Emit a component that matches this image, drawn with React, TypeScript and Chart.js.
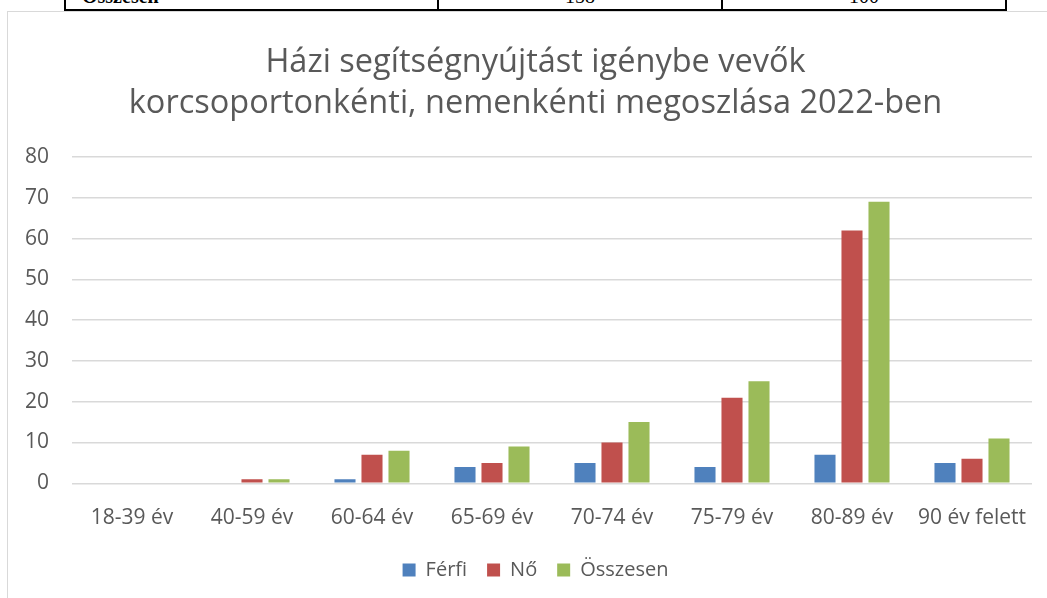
import React, { useEffect, useRef } from "react";
import { Chart, registerables } from "chart.js";

Chart.register(...registerables);

const categories = ["18-39 év", "40-59 év", "60-64 év", "65-69 év", "70-74 év", "75-79 év", "80-89 év", "90 év felett"];
const ferfi = [0, 0, 1, 4, 5, 4, 7, 5];
const no = [0, 1, 7, 5, 10, 21, 62, 6];
const osszesen = [0, 1, 8, 9, 15, 25, 69, 11];
const seriesNames = ["Férfi", "Nő", "Összesen"];
const titleLines = ["Házi segítségnyújtást igénybe vevők", "korcsoportonkénti, nemenkénti megoszlása 2022-ben"];
const tableCells = ["Összesen", "158", "100"];

const FONT = "'Open Sans', 'DejaVu Sans', sans-serif";
const TEXT = "#595959";

export default function App() {
  const ref = useRef<HTMLCanvasElement>(null);
  useEffect(() => {
    const chart = new Chart(ref.current!, {
      type: "bar",
      data: {
        labels: categories,
        datasets: [
          { label: seriesNames[0], data: ferfi, backgroundColor: "#4F81BD", yAxisID: "y" },
          { label: seriesNames[1], data: no, backgroundColor: "#C0504D", yAxisID: "y" },
          { label: seriesNames[2], data: osszesen, backgroundColor: "#9BBB59", yAxisID: "y" },
        ],
      },
      options: {
        animation: false,
        responsive: false,
        maintainAspectRatio: false,
        layout: { padding: { left: 17, right: 0, top: 0, bottom: 8 } },
        datasets: { bar: { categoryPercentage: 0.675, barPercentage: 0.78 } },
        plugins: {
          tooltip: { enabled: false },
          title: {
            display: true,
            text: titleLines,
            color: TEXT,
            font: { family: FONT, size: 32.5, weight: "normal", lineHeight: 41 / 32.5 },
            padding: { top: 30, bottom: 33 },
          },
          legend: {
            position: "bottom",
            labels: {
              color: TEXT,
              font: { family: FONT, size: 20 },
              boxWidth: 13,
              boxHeight: 13,
              padding: 20,
            },
          },
        },
        scales: {
          x: {
            grid: { display: false },
            border: { display: false },
            ticks: { color: TEXT, font: { family: FONT, size: 21 }, padding: 14, maxRotation: 0, autoSkip: false },
            afterFit: (s: any) => { s.height = s.height - 4.5; },
          },
          y: {
            min: 0,
            max: 80,
            position: "left",
            grid: { color: "#D9D9D9", lineWidth: 1.5, drawTicks: false },
            border: { display: false },
            ticks: { stepSize: 10, color: TEXT, font: { family: FONT, size: 21 }, padding: 23 },
            afterFit: (s: any) => { s.width = 47; },
          },
          y1: {
            position: "right",
            grid: { display: false },
            border: { display: false },
            ticks: { display: false },
            afterFit: (s: any) => { s.width = 14; },
          },
        },
      },
    });
    return () => chart.destroy();
  }, []);

  const serif = "'Liberation Serif', 'Times New Roman', serif";
  return (
    <div style={{ position: "fixed", left: 0, top: 0, width: 1047, height: 598, overflow: "hidden", background: "#fff" }}>
      <div style={{ position: "absolute", left: 64, top: -30, width: 943, height: 41, border: "2px solid #000", boxSizing: "border-box" }} />
      <div style={{ position: "absolute", left: 437, top: -30, width: 2, height: 40, background: "#000" }} />
      <div style={{ position: "absolute", left: 721, top: -30, width: 2, height: 40, background: "#000" }} />
      <div style={{ position: "absolute", left: 82, top: -14, fontFamily: serif, fontSize: 20, lineHeight: "20px", fontWeight: "bold", color: "#000" }}>{tableCells[0]}</div>
      <div style={{ position: "absolute", left: 439, width: 282, top: -14, textAlign: "center", fontFamily: serif, fontSize: 20, lineHeight: "20px", color: "#000" }}>{tableCells[1]}</div>
      <div style={{ position: "absolute", left: 723, width: 282, top: -14, textAlign: "center", fontFamily: serif, fontSize: 20, lineHeight: "20px", color: "#000" }}>{tableCells[2]}</div>
      <div style={{ position: "absolute", left: 7, top: 11, width: 1070, height: 620, border: "1px solid #D9D9D9", boxSizing: "border-box" }} />
      <canvas ref={ref} width={1038} height={586} style={{ position: "absolute", left: 8, top: 12, width: 1038, height: 586 }} />
    </div>
  );
}
